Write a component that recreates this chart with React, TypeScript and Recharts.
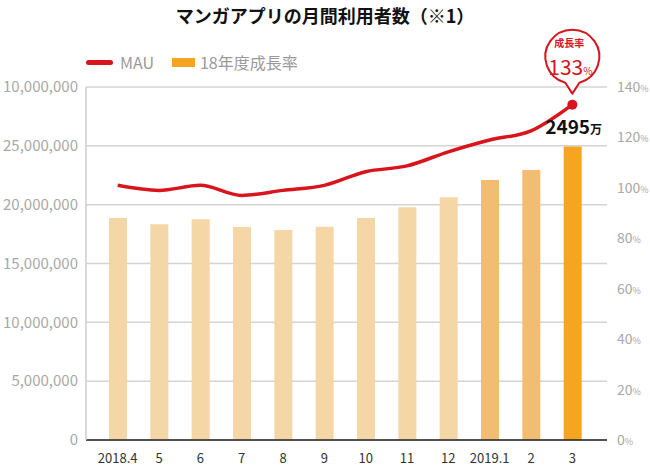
import { ComposedChart, Bar, Line, XAxis, YAxis, CartesianGrid, Cell, LabelList } from "recharts"

const months = ["2018.4", "5", "6", "7", "8", "9", "10", "11", "12", "2019.1", "2", "3"]
const mau = [18870000, 18330000, 18760000, 18100000, 17850000, 18130000, 18870000, 19780000, 20630000, 22100000, 22950000, 24950000]
const growthRate = [101, 99, 101, 97, 99, 101, 106.4, 108.7, 114.3, 119, 122.6, 133]
const barColors = ["#f5d6a6", "#f5d6a6", "#f5d6a6", "#f5d6a6", "#f5d6a6", "#f5d6a6", "#f5d6a6", "#f5d6a6", "#f5d6a6", "#f2bc72", "#f2bc72", "#f5a51f"]

const leftTicks = [0, 5000000, 10000000, 15000000, 20000000, 25000000, 30000000]
const leftTickLabels = ["0", "5,000,000", "10,000,000", "15,000,000", "20,000,000", "25,000,000", "10,000,000"]
const rightTicks = [0, 20, 40, 60, 80, 100, 120, 140]

const RED = "#d8141c"
const FONT = "'Noto Sans CJK JP', 'Noto Sans', sans-serif"

const data = months.map((m, i) => ({ month: m, mau: mau[i], rate: growthRate[i] }))
const last = data.length - 1

const RightTick = (props: any) => {
  const { x, y, payload } = props
  return (
    <text x={x + 2} y={y} dy={5} fill="#a8a8a8" fontSize={14} fontFamily={FONT}>
      {payload.value}
      <tspan fontSize={9}>%</tspan>
    </text>
  )
}

const CalloutDot = (props: any) => {
  const { cx, cy, index } = props
  if (index !== last) return <g key={`d${index}`} />
  const r = 27
  const ccx = cx - 3
  const ccy = cy - 48
  // circle with a pointer down to the point
  const ax = 7
  const ay = Math.sqrt(r * r - ax * ax)
  const path = `M ${ccx - ax + 3} ${ccy + ay} A ${r} ${r} 0 1 1 ${ccx + ax + 3} ${ccy + ay} L ${cx} ${cy - 11} Z`
  return (
    <g key={`d${index}`}>
      <path d={path} fill="#fff" stroke={RED} strokeWidth={2} strokeLinejoin="round" />
      <text x={ccx} y={ccy - 10} textAnchor="middle" fill={RED} fontSize={10} fontWeight={700} fontFamily={FONT}>
        成長率
      </text>
      <text x={ccx + 1} y={ccy + 18} textAnchor="middle" fill={RED} fontSize={21} fontFamily={FONT}>
        {Math.round(growthRate[last])}
        <tspan fontSize={10}>%</tspan>
      </text>
      <circle cx={cx} cy={cy} r={5} fill={RED} />
    </g>
  )
}

const TotalLabel = (props: any) => {
  const { x, y, width, index, value } = props
  if (index !== last) return null
  return (
    <text x={x + width / 2 + 1} y={y - 12} textAnchor="middle" fill="#111" fontSize={19} fontWeight={700} fontFamily={FONT}>
      {Math.round(value / 10000)}
      <tspan fontSize={12}>万</tspan>
    </text>
  )
}

export default function App() {
  return (
    <div style={{ position: "absolute", left: 0, top: 0, width: 650, height: 471, background: "#fff", fontFamily: FONT }}>
      <div style={{ position: "absolute", top: 2, left: 0, width: 650, textAlign: "center", fontSize: 18, fontWeight: 700, color: "#111" }}>
        マンガアプリの月間利用者数（※1）
      </div>

      {/* legend */}
      <div style={{ position: "absolute", top: 50, left: 86, display: "flex", alignItems: "center", fontSize: 16, color: "#9a9a9a" }}>
        <span style={{ display: "inline-block", width: 27, height: 5, borderRadius: 3, background: RED, marginRight: 7 }} />
        <span style={{ marginRight: 18 }}>MAU</span>
        <span style={{ display: "inline-block", width: 23, height: 9, background: "#f5a51f", marginRight: 5 }} />
        <span>18年度成長率</span>
      </div>

      <ComposedChart width={650} height={471} data={data} margin={{ top: 87, right: 0, bottom: 0, left: 0 }}>
        <CartesianGrid yAxisId="left" vertical={false} stroke="#d4d4d4" strokeWidth={1.5} />
        <XAxis
          dataKey="month"
          height={31}
          padding={{ left: 11, right: 14 }}
          tickLine={false}
          axisLine={{ stroke: "#222", strokeWidth: 1.5 }}
          tick={{ fill: "#333", fontSize: 13, fontFamily: FONT }}
          tickMargin={8}
          interval={0}
        />
        <YAxis
          yAxisId="left"
          width={86}
          domain={[0, 30000000]}
          ticks={leftTicks}
          tickFormatter={(v: number) => leftTickLabels[leftTicks.indexOf(v)]}
          tickLine={false}
          axisLine={{ stroke: "#cccccc", strokeWidth: 1.5 }}
          tick={{ fill: "#a8a8a8", fontSize: 15, fontFamily: FONT }}
        />
        <YAxis
          yAxisId="right"
          orientation="right"
          width={43}
          domain={[0, 140]}
          ticks={rightTicks}
          tickLine={false}
          axisLine={false}
          tick={<RightTick />}
        />
        <Bar yAxisId="left" dataKey="mau" barSize={18} isAnimationActive={false}>
          {data.map((_, i) => (
            <Cell key={i} fill={barColors[i]} />
          ))}
          <LabelList dataKey="mau" content={<TotalLabel />} />
        </Bar>
        <Line
          yAxisId="right"
          dataKey="rate"
          type="monotone"
          stroke={RED}
          strokeWidth={3.5}
          dot={CalloutDot}
          activeDot={false}
          isAnimationActive={false}
        />
      </ComposedChart>
    </div>
  )
}
